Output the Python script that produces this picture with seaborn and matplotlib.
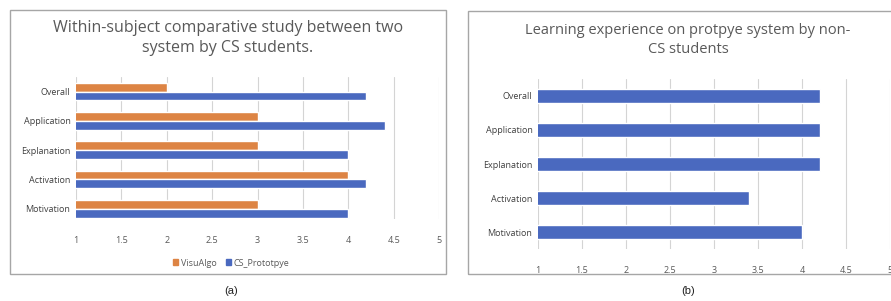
import numpy as np
import pandas as pd
import seaborn as sns
import matplotlib.pyplot as plt
from matplotlib.patches import Rectangle

# -------- DATA --------#
categories = ['Overall', 'Application', 'Explanation', 'Activation', 'Motivation']
visualgo_scores = [2.0, 3.0, 3.0, 4.0, 3.0]
prototype_scores = [4.2, 4.4, 4.0, 4.2, 4.0]
noncs_scores = [4.2, 4.2, 4.2, 3.4, 4.0]
series_names = ['VisuAlgo', 'CS_Prototpye']
x_ticks = [1, 1.5, 2, 2.5, 3, 3.5, 4, 4.5, 5]
x_tick_labels = ['1', '1.5', '2', '2.5', '3', '3.5', '4', '4.5', '5']

df_a = pd.DataFrame({
    'category': categories * 2,
    'score': visualgo_scores + prototype_scores,
    'system': [series_names[0]] * 5 + [series_names[1]] * 5,
})
df_b = pd.DataFrame({'category': categories, 'score': noncs_scores})

ORANGE = '#DD8444'
BLUE = '#4A69BF'
GRID = '#D4D4D4'
TXT = '#595959'

sns.set_theme(style='white')
plt.rcParams['font.family'] = ['Open Sans', 'DejaVu Sans']

W, H = 891, 301
fig = plt.figure(figsize=(W / 100, H / 100), dpi=100)
fig.patch.set_facecolor('white')


def px_axes(x0, y0, x1, y1):
    # pixel box (top-left origin) -> figure axes
    return fig.add_axes([x0 / W, 1 - y1 / H, (x1 - x0) / W, (y1 - y0) / H])


def style_axis(ax, ymax):
    ax.set_xlim(1, 5)
    ax.set_ylim(ymax, -0.5)
    ax.set_xticks(x_ticks)
    ax.set_xticklabels(x_tick_labels, fontsize=6.5, color=TXT)
    ax.tick_params(axis='y', labelsize=6.5, labelcolor='#404040', length=0, pad=4)
    ax.tick_params(axis='x', length=0, pad=12)
    ax.grid(True, axis='x', color=GRID, linewidth=0.8)
    ax.set_axisbelow(True)
    for s in ax.spines.values():
        s.set_visible(False)
    ax.set_xlabel('')
    ax.set_ylabel('')


# frames around the two panels
fig.add_artist(Rectangle((10 / W, 1 - 274 / H), 436 / W, 264 / H, transform=fig.transFigure,
                         fill=False, edgecolor='#A6A6A6', linewidth=1))
fig.add_artist(Rectangle((468 / W, 1 - 274 / H), 430 / W, 263 / H, transform=fig.transFigure,
                         fill=False, edgecolor='#A6A6A6', linewidth=1))

# -------- PANEL (a) --------#
ax1 = px_axes(76, 77, 439, 219)
sns.barplot(data=df_a, y='category', x='score', hue='system', order=categories,
            hue_order=series_names, palette=[ORANGE, BLUE], width=0.6,
            orient='h', ax=ax1, saturation=1)
style_axis(ax1, 4.35)
ax1.legend_.remove()
handles = [Rectangle((0, 0), 1, 1, color=ORANGE), Rectangle((0, 0), 1, 1, color=BLUE)]
fig.legend(handles, series_names, loc='center', bbox_to_anchor=(231 / W, 1 - 263 / H),
           ncol=2, frameon=False, fontsize=6.5, handlelength=0.6, handleheight=0.6,
           columnspacing=1.0, handletextpad=0.3, labelcolor=TXT)
fig.text(228 / W, 1 - 38 / H, 'Within-subject comparative study between two\nsystem by CS students.',
         ha='center', va='center', fontsize=11.5, color=TXT, linespacing=1.35)
fig.text(231 / W, 1 - 291 / H, '(a)', ha='center', va='center', fontsize=8,
         color='#222222', family=['Liberation Sans', 'DejaVu Sans'])

# -------- PANEL (b) --------#
ax2 = px_axes(538, 79, 890, 249)
sns.barplot(data=df_b, y='category', x='score', order=categories, color=BLUE,
            width=0.4, orient='h', ax=ax2, saturation=1)
style_axis(ax2, 4.5)
fig.text(688 / W, 1 - 40 / H, 'Learning experience on protpye system by non-\nCS students',
         ha='center', va='center', fontsize=10.5, color=TXT, linespacing=1.35)
fig.text(688 / W, 1 - 291 / H, '(b)', ha='center', va='center', fontsize=8,
         color='#222222', family=['Liberation Sans', 'DejaVu Sans'])

fig.savefig('out.png', dpi=100, facecolor='white')
